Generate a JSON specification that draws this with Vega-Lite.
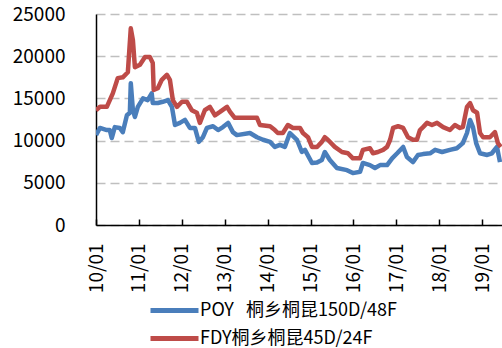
{
  "$schema": "https://vega.github.io/schema/vega-lite/v6.json",
  "width": 406,
  "height": 211,
  "autosize": "none",
  "padding": {"left": 96, "top": 14, "right": 0, "bottom": 123},
  "background": "white",
  "config": {
    "view": {"stroke": null},
    "font": "Noto Sans CJK SC"
  },
  "data": {
    "values": [
      {"date": "2010-01-01", "s": "POY", "v": 10650},
      {"date": "2010-02-04", "s": "POY", "v": 11500},
      {"date": "2010-04-03", "s": "POY", "v": 11250},
      {"date": "2010-04-28", "s": "POY", "v": 11250},
      {"date": "2010-05-15", "s": "POY", "v": 10300},
      {"date": "2010-06-10", "s": "POY", "v": 11600},
      {"date": "2010-07-22", "s": "POY", "v": 11500},
      {"date": "2010-08-17", "s": "POY", "v": 11000},
      {"date": "2010-09-21", "s": "POY", "v": 13000},
      {"date": "2010-10-16", "s": "POY", "v": 13300},
      {"date": "2010-10-24", "s": "POY", "v": 16800},
      {"date": "2010-11-11", "s": "POY", "v": 13600},
      {"date": "2010-11-28", "s": "POY", "v": 12800},
      {"date": "2010-12-23", "s": "POY", "v": 14000},
      {"date": "2011-02-05", "s": "POY", "v": 15000},
      {"date": "2011-03-17", "s": "POY", "v": 14800},
      {"date": "2011-04-20", "s": "POY", "v": 15600},
      {"date": "2011-04-29", "s": "POY", "v": 14450},
      {"date": "2011-06-11", "s": "POY", "v": 14450},
      {"date": "2011-07-23", "s": "POY", "v": 14600},
      {"date": "2011-09-05", "s": "POY", "v": 14800},
      {"date": "2011-10-09", "s": "POY", "v": 14000},
      {"date": "2011-11-04", "s": "POY", "v": 11850},
      {"date": "2011-12-16", "s": "POY", "v": 12100},
      {"date": "2012-01-28", "s": "POY", "v": 12450},
      {"date": "2012-03-10", "s": "POY", "v": 11500},
      {"date": "2012-04-22", "s": "POY", "v": 11500},
      {"date": "2012-05-25", "s": "POY", "v": 9850},
      {"date": "2012-06-29", "s": "POY", "v": 10400},
      {"date": "2012-08-02", "s": "POY", "v": 11500},
      {"date": "2012-09-23", "s": "POY", "v": 11700},
      {"date": "2012-11-05", "s": "POY", "v": 11250},
      {"date": "2012-12-16", "s": "POY", "v": 11600},
      {"date": "2013-01-29", "s": "POY", "v": 12100},
      {"date": "2013-03-11", "s": "POY", "v": 11000},
      {"date": "2013-04-14", "s": "POY", "v": 10650},
      {"date": "2013-08-03", "s": "POY", "v": 10900},
      {"date": "2013-10-02", "s": "POY", "v": 10400},
      {"date": "2013-11-22", "s": "POY", "v": 10100},
      {"date": "2014-01-21", "s": "POY", "v": 9850},
      {"date": "2014-03-03", "s": "POY", "v": 9250},
      {"date": "2014-04-15", "s": "POY", "v": 9500},
      {"date": "2014-05-27", "s": "POY", "v": 9250},
      {"date": "2014-07-09", "s": "POY", "v": 10900},
      {"date": "2014-09-07", "s": "POY", "v": 10100},
      {"date": "2014-10-19", "s": "POY", "v": 8650},
      {"date": "2014-11-14", "s": "POY", "v": 8900},
      {"date": "2015-01-13", "s": "POY", "v": 7350},
      {"date": "2015-02-25", "s": "POY", "v": 7400},
      {"date": "2015-04-07", "s": "POY", "v": 7700},
      {"date": "2015-05-02", "s": "POY", "v": 8650},
      {"date": "2015-06-14", "s": "POY", "v": 7700},
      {"date": "2015-08-13", "s": "POY", "v": 6750},
      {"date": "2015-11-07", "s": "POY", "v": 6500},
      {"date": "2015-12-27", "s": "POY", "v": 6150},
      {"date": "2016-02-26", "s": "POY", "v": 6300},
      {"date": "2016-03-21", "s": "POY", "v": 7350},
      {"date": "2016-05-20", "s": "POY", "v": 7100},
      {"date": "2016-07-02", "s": "POY", "v": 6750},
      {"date": "2016-08-14", "s": "POY", "v": 7100},
      {"date": "2016-10-13", "s": "POY", "v": 7100},
      {"date": "2016-11-25", "s": "POY", "v": 7900},
      {"date": "2017-01-07", "s": "POY", "v": 8500},
      {"date": "2017-02-27", "s": "POY", "v": 9250},
      {"date": "2017-03-31", "s": "POY", "v": 8050},
      {"date": "2017-05-21", "s": "POY", "v": 7450},
      {"date": "2017-07-03", "s": "POY", "v": 8300},
      {"date": "2017-08-15", "s": "POY", "v": 8400},
      {"date": "2017-10-14", "s": "POY", "v": 8500},
      {"date": "2017-11-26", "s": "POY", "v": 8900},
      {"date": "2018-01-24", "s": "POY", "v": 8650},
      {"date": "2018-04-01", "s": "POY", "v": 8900},
      {"date": "2018-05-30", "s": "POY", "v": 9100},
      {"date": "2018-07-20", "s": "POY", "v": 9700},
      {"date": "2018-08-24", "s": "POY", "v": 10900},
      {"date": "2018-09-19", "s": "POY", "v": 12450},
      {"date": "2018-10-14", "s": "POY", "v": 11600},
      {"date": "2018-11-10", "s": "POY", "v": 9700},
      {"date": "2018-12-13", "s": "POY", "v": 8500},
      {"date": "2019-02-12", "s": "POY", "v": 8300},
      {"date": "2019-03-24", "s": "POY", "v": 8500},
      {"date": "2019-05-06", "s": "POY", "v": 9250},
      {"date": "2019-06-01", "s": "POY", "v": 7450},
      {"date": "2010-01-01", "s": "FDY", "v": 13600},
      {"date": "2010-02-04", "s": "FDY", "v": 14000},
      {"date": "2010-04-03", "s": "FDY", "v": 14000},
      {"date": "2010-05-24", "s": "FDY", "v": 15600},
      {"date": "2010-07-05", "s": "FDY", "v": 17400},
      {"date": "2010-08-17", "s": "FDY", "v": 17500},
      {"date": "2010-09-29", "s": "FDY", "v": 18100},
      {"date": "2010-10-24", "s": "FDY", "v": 23300},
      {"date": "2010-11-11", "s": "FDY", "v": 21900},
      {"date": "2010-11-28", "s": "FDY", "v": 18700},
      {"date": "2011-01-10", "s": "FDY", "v": 19000},
      {"date": "2011-02-22", "s": "FDY", "v": 19900},
      {"date": "2011-04-04", "s": "FDY", "v": 19900},
      {"date": "2011-04-29", "s": "FDY", "v": 19200},
      {"date": "2011-05-07", "s": "FDY", "v": 16000},
      {"date": "2011-06-11", "s": "FDY", "v": 16200},
      {"date": "2011-07-15", "s": "FDY", "v": 17200},
      {"date": "2011-08-27", "s": "FDY", "v": 17800},
      {"date": "2011-09-22", "s": "FDY", "v": 17200},
      {"date": "2011-10-17", "s": "FDY", "v": 14800},
      {"date": "2011-11-21", "s": "FDY", "v": 14000},
      {"date": "2012-01-03", "s": "FDY", "v": 14600},
      {"date": "2012-02-14", "s": "FDY", "v": 14600},
      {"date": "2012-03-26", "s": "FDY", "v": 13600},
      {"date": "2012-05-08", "s": "FDY", "v": 13300},
      {"date": "2012-06-03", "s": "FDY", "v": 12100},
      {"date": "2012-07-15", "s": "FDY", "v": 13600},
      {"date": "2012-08-27", "s": "FDY", "v": 14000},
      {"date": "2012-10-09", "s": "FDY", "v": 13000},
      {"date": "2012-11-21", "s": "FDY", "v": 13400},
      {"date": "2013-01-20", "s": "FDY", "v": 14000},
      {"date": "2013-02-15", "s": "FDY", "v": 13400},
      {"date": "2013-03-27", "s": "FDY", "v": 12700},
      {"date": "2013-08-03", "s": "FDY", "v": 12700},
      {"date": "2013-10-02", "s": "FDY", "v": 12700},
      {"date": "2013-10-27", "s": "FDY", "v": 11850},
      {"date": "2014-01-21", "s": "FDY", "v": 11700},
      {"date": "2014-03-03", "s": "FDY", "v": 11250},
      {"date": "2014-03-28", "s": "FDY", "v": 10900},
      {"date": "2014-05-10", "s": "FDY", "v": 10900},
      {"date": "2014-06-22", "s": "FDY", "v": 11850},
      {"date": "2014-08-04", "s": "FDY", "v": 11500},
      {"date": "2014-10-03", "s": "FDY", "v": 11500},
      {"date": "2014-10-28", "s": "FDY", "v": 10900},
      {"date": "2014-12-10", "s": "FDY", "v": 10400},
      {"date": "2015-01-13", "s": "FDY", "v": 9250},
      {"date": "2015-02-25", "s": "FDY", "v": 9250},
      {"date": "2015-04-07", "s": "FDY", "v": 9850},
      {"date": "2015-05-02", "s": "FDY", "v": 10400},
      {"date": "2015-05-28", "s": "FDY", "v": 10100},
      {"date": "2015-07-26", "s": "FDY", "v": 9250},
      {"date": "2015-09-25", "s": "FDY", "v": 8650},
      {"date": "2015-11-15", "s": "FDY", "v": 8500},
      {"date": "2015-12-27", "s": "FDY", "v": 7900},
      {"date": "2016-02-26", "s": "FDY", "v": 7900},
      {"date": "2016-03-21", "s": "FDY", "v": 8900},
      {"date": "2016-05-20", "s": "FDY", "v": 9100},
      {"date": "2016-06-15", "s": "FDY", "v": 8500},
      {"date": "2016-07-27", "s": "FDY", "v": 8650},
      {"date": "2016-09-09", "s": "FDY", "v": 8900},
      {"date": "2016-10-13", "s": "FDY", "v": 9250},
      {"date": "2016-11-08", "s": "FDY", "v": 10100},
      {"date": "2016-12-03", "s": "FDY", "v": 11500},
      {"date": "2017-01-15", "s": "FDY", "v": 11700},
      {"date": "2017-02-27", "s": "FDY", "v": 11500},
      {"date": "2017-04-09", "s": "FDY", "v": 10400},
      {"date": "2017-05-21", "s": "FDY", "v": 10100},
      {"date": "2017-06-24", "s": "FDY", "v": 10100},
      {"date": "2017-07-20", "s": "FDY", "v": 11250},
      {"date": "2017-08-15", "s": "FDY", "v": 11600},
      {"date": "2017-09-18", "s": "FDY", "v": 12100},
      {"date": "2017-10-30", "s": "FDY", "v": 11850},
      {"date": "2017-12-12", "s": "FDY", "v": 12100},
      {"date": "2018-02-02", "s": "FDY", "v": 11600},
      {"date": "2018-04-01", "s": "FDY", "v": 11250},
      {"date": "2018-05-13", "s": "FDY", "v": 11850},
      {"date": "2018-06-25", "s": "FDY", "v": 11500},
      {"date": "2018-07-20", "s": "FDY", "v": 11600},
      {"date": "2018-08-24", "s": "FDY", "v": 14000},
      {"date": "2018-09-19", "s": "FDY", "v": 14450},
      {"date": "2018-10-14", "s": "FDY", "v": 13600},
      {"date": "2018-11-18", "s": "FDY", "v": 13300},
      {"date": "2018-12-13", "s": "FDY", "v": 10900},
      {"date": "2019-01-08", "s": "FDY", "v": 10400},
      {"date": "2019-03-07", "s": "FDY", "v": 10400},
      {"date": "2019-04-19", "s": "FDY", "v": 11000},
      {"date": "2019-05-14", "s": "FDY", "v": 9700},
      {"date": "2019-06-09", "s": "FDY", "v": 9250}
    ]
  },
  "mark": {"type": "line", "strokeWidth": 4.5, "strokeJoin": "round", "clip": true},
  "encoding": {
    "x": {
      "field": "date",
      "type": "temporal",
      "scale": {"domain": ["2010-01-01", "2019-06-18"]},
      "axis": {
        "title": null,
        "format": "%y/%m",
        "values": ["2010-01-01", "2011-01-01", "2012-01-01", "2013-01-01", "2014-01-01", "2015-01-01", "2016-01-01", "2017-01-01", "2018-01-01", "2019-01-01"],
        "labelAngle": -90,
        "labelFontSize": 19,
        "labelColor": "#000000",
        "labelPadding": 24,
        "tickSize": -6,
        "tickColor": "#000000",
        "tickWidth": 1.5,
        "domainColor": "#000000",
        "domainWidth": 1.5,
        "grid": false,
        "labelFlush": false,
        "labelOverlap": false
      }
    },
    "y": {
      "field": "v",
      "type": "quantitative",
      "scale": {"domain": [0, 25000], "nice": false},
      "axis": {
        "title": null,
        "values": [0, 5000, 10000, 15000, 20000, 25000],
        "format": "d",
        "labelFontSize": 19,
        "labelColor": "#000000",
        "labelPadding": 31,
        "ticks": false,
        "domainColor": "#000000",
        "domainWidth": 1.5,
        "grid": true,
        "gridColor": "#bfbfbf",
        "gridDash": [9, 5],
        "gridWidth": 1.5
      }
    },
    "color": {
      "field": "s",
      "type": "nominal",
      "scale": {"domain": ["POY", "FDY"], "range": ["#4A7EBB", "#BE4B48"]},
      "legend": {
        "title": null,
        "orient": "none",
        "legendX": 66,
        "legendY": 284,
        "symbolType": "M-2.4,0H2.4",
        "symbolSize": 400,
        "symbolStrokeWidth": 5,
        "labelFontSize": 18,
        "labelLimit": 400,
        "labelColor": "#000000",
        "labelOffset": 13,
        "rowPadding": 5,
        "labelExpr": "datum.label == 'POY' ? 'POY\u00a0\u00a0\u00a0桐乡桐昆150D/48F' : 'FDY桐乡桐昆45D/24F'"
      }
    }
  }
}
